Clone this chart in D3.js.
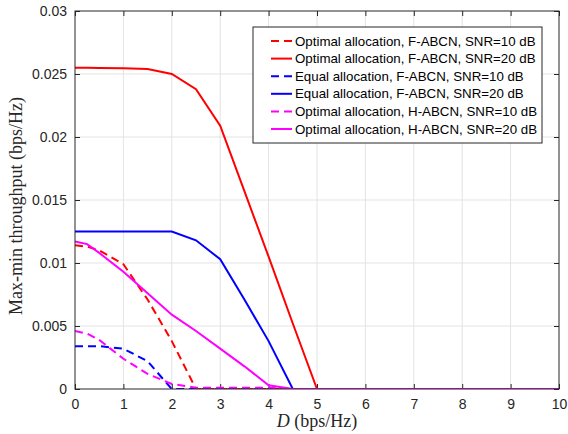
<!DOCTYPE html>
<html lang="en">
<head>
  <meta charset="utf-8">
  <title>Max-min throughput vs D</title>
  <script src="https://d3js.org/d3.v7.min.js"></script>
  <style>
    body { margin: 0; background: #fff; }
    .tick text { font-family: "Liberation Sans", Arial, sans-serif; font-size: 14px; fill: #262626; }
    .legend text { font-family: "Liberation Sans", Arial, sans-serif; font-size: 13.3px; fill: #000; }
    .axis-label { font-family: "Liberation Serif", "Times New Roman", serif; font-size: 18px; fill: #262626; }
  </style>
</head>
<body>
<div id="chart"></div>
<script>
// D values (bps/Hz)
const dVals = [0, 0.25, 0.5, 1, 1.5, 2, 2.5, 3, 3.5, 4, 4.5, 5, 5.5, 6, 6.5, 7, 7.5, 8, 8.5, 9, 9.5, 10];

// max-min throughput for each curve
const optF10 = [0.0114, 0.0113, 0.0110, 0.0099, 0.0071, 0.0038, 0, 0, 0, 0, 0, 0, 0, 0, 0, 0, 0, 0, 0, 0, 0, 0];
const optF20 = [0.0255, 0.0255, 0.02548, 0.02545, 0.0254, 0.0250, 0.0238, 0.0209, 0.0157, 0.0105, 0.0052, 0, 0, 0, 0, 0, 0, 0, 0, 0, 0, 0];
const eqF10  = [0.0034, 0.0034, 0.0034, 0.0032, 0.0022, 0, 0, 0, 0, 0, 0, 0, 0, 0, 0, 0, 0, 0, 0, 0, 0, 0];
const eqF20  = [0.0125, 0.0125, 0.0125, 0.0125, 0.0125, 0.0125, 0.0118, 0.0103, 0.0071, 0.0038, 0, 0, 0, 0, 0, 0, 0, 0, 0, 0, 0, 0];
const optH10 = [0.0046, 0.0044, 0.0039, 0.0024, 0.0012, 0.0004, 0.0001, 0.0001, 0.0001, 0.0001, 0, 0, 0, 0, 0, 0, 0, 0, 0, 0, 0, 0];
const optH20 = [0.0117, 0.0115, 0.0108, 0.0093, 0.0076, 0.0059, 0.0046, 0.0032, 0.0018, 0.0003, 0, 0, 0, 0, 0, 0, 0, 0, 0, 0, 0, 0];

const seriesNames = [
  "Optimal allocation, F-ABCN, SNR=10 dB",
  "Optimal allocation, F-ABCN, SNR=20 dB",
  "Equal allocation, F-ABCN, SNR=10 dB",
  "Equal allocation, F-ABCN, SNR=20 dB",
  "Optimal allocation, H-ABCN, SNR=10 dB",
  "Optimal allocation, H-ABCN, SNR=20 dB"
];
const xTicks = [0, 1, 2, 3, 4, 5, 6, 7, 8, 9, 10];
const yTicks = [0, 0.005, 0.01, 0.015, 0.02, 0.025, 0.03];
const yTickLabels = ["0", "0.005", "0.01", "0.015", "0.02", "0.025", "0.03"];

const series = [
  {name: seriesNames[0], values: optF10, color: "#ff0000", dashed: true},
  {name: seriesNames[1], values: optF20, color: "#ff0000", dashed: false},
  {name: seriesNames[2], values: eqF10,  color: "#0000ff", dashed: true},
  {name: seriesNames[3], values: eqF20,  color: "#0000ff", dashed: false},
  {name: seriesNames[4], values: optH10, color: "#ff00ff", dashed: true},
  {name: seriesNames[5], values: optH20, color: "#ff00ff", dashed: false}
];

const width = 568, height = 434;
const margin = {top: 11, right: 9, bottom: 45, left: 75};
const tick = 5;

const svg = d3.select("#chart").append("svg")
    .attr("width", width)
    .attr("height", height);

const x = d3.scaleLinear().domain([0, 10]).range([margin.left, width - margin.right]);
const y = d3.scaleLinear().domain([0, 0.03]).range([height - margin.bottom, margin.top]);

// grid
svg.append("g")
  .selectAll("line")
  .data(xTicks.slice(1, -1))
  .join("line")
    .attr("x1", d => x(d)).attr("x2", d => x(d))
    .attr("y1", y(0)).attr("y2", y(0.03))
    .attr("stroke", "#e3e3e3");
svg.append("g")
  .selectAll("line")
  .data(yTicks.slice(1, -1))
  .join("line")
    .attr("x1", x(0)).attr("x2", x(10))
    .attr("y1", d => y(d)).attr("y2", d => y(d))
    .attr("stroke", "#e3e3e3");

// axes (inward ticks on all four sides)
const xAxis = d3.axisBottom(x).tickValues(xTicks).tickSizeInner(-tick).tickSizeOuter(0).tickPadding(10);
const yAxis = d3.axisLeft(y).tickValues(yTicks).tickSizeInner(-tick).tickSizeOuter(0).tickPadding(8)
    .tickFormat((d, i) => yTickLabels[i]);

svg.append("g")
    .attr("transform", `translate(0,${y(0)})`)
    .call(xAxis)
    .call(g => g.select(".domain").remove())
    .call(g => g.selectAll(".tick line").attr("stroke", "#262626"));
svg.append("g")
    .attr("transform", `translate(${x(0)},0)`)
    .call(yAxis)
    .call(g => g.select(".domain").remove())
    .call(g => g.selectAll(".tick line").attr("stroke", "#262626"));
svg.append("g")
    .attr("transform", `translate(0,${y(0.03)})`)
    .call(d3.axisTop(x).tickValues(xTicks).tickSizeInner(-tick).tickSizeOuter(0).tickFormat(""))
    .call(g => g.select(".domain").remove())
    .call(g => g.selectAll(".tick line").attr("stroke", "#262626"));
svg.append("g")
    .attr("transform", `translate(${x(10)},0)`)
    .call(d3.axisRight(y).tickValues(yTicks).tickSizeInner(-tick).tickSizeOuter(0).tickFormat(""))
    .call(g => g.select(".domain").remove())
    .call(g => g.selectAll(".tick line").attr("stroke", "#262626"));

// clip
svg.append("clipPath").attr("id", "plot-clip")
  .append("rect")
    .attr("x", x(0)).attr("y", y(0.03))
    .attr("width", x(10) - x(0)).attr("height", y(0) - y(0.03));

const line = d3.line()
    .x((d, i) => x(dVals[i]))
    .y(d => y(d));

svg.append("g")
    .attr("clip-path", "url(#plot-clip)")
  .selectAll("path")
  .data(series)
  .join("path")
    .attr("fill", "none")
    .attr("stroke", d => d.color)
    .attr("stroke-width", 2)
    .attr("stroke-dasharray", d => d.dashed ? "8,5" : null)
    .attr("d", d => line(d.values));

// axes box
svg.append("rect")
    .attr("x", x(0)).attr("y", y(0.03))
    .attr("width", x(10) - x(0)).attr("height", y(0) - y(0.03))
    .attr("fill", "none")
    .attr("stroke", "#262626")
    .attr("stroke-width", 1);

// axis labels
svg.append("text")
    .attr("class", "axis-label")
    .attr("x", (x(0) + x(10)) / 2)
    .attr("y", 427)
    .attr("text-anchor", "middle")
    .call(t => t.append("tspan").attr("font-style", "italic").text("D"))
    .call(t => t.append("tspan").text(" (bps/Hz)"));

svg.append("text")
    .attr("class", "axis-label")
    .attr("transform", `translate(22,${(y(0) + y(0.03)) / 2 + 6}) rotate(-90)`)
    .attr("text-anchor", "middle")
    .text("Max-min throughput (bps/Hz)");

// legend
const lg = {x: 253, y: 27, w: 289, h: 116, row: 17.6};
const legend = svg.append("g").attr("class", "legend");
legend.append("rect")
    .attr("x", lg.x).attr("y", lg.y)
    .attr("width", lg.w).attr("height", lg.h)
    .attr("fill", "#fff")
    .attr("stroke", "#262626")
    .attr("stroke-width", 1);

const items = legend.selectAll(".item")
  .data(series)
  .join("g")
    .attr("class", "item")
    .attr("transform", (d, i) => `translate(${lg.x},${lg.y + 14 + i * lg.row})`);
items.append("line")
    .attr("x1", 18).attr("x2", 39)
    .attr("stroke", d => d.color)
    .attr("stroke-width", 2)
    .attr("stroke-dasharray", d => d.dashed ? "8,5" : null);
items.append("text")
    .attr("x", 42)
    .attr("dy", "0.35em")
    .text(d => d.name);
</script>
</body>
</html>
